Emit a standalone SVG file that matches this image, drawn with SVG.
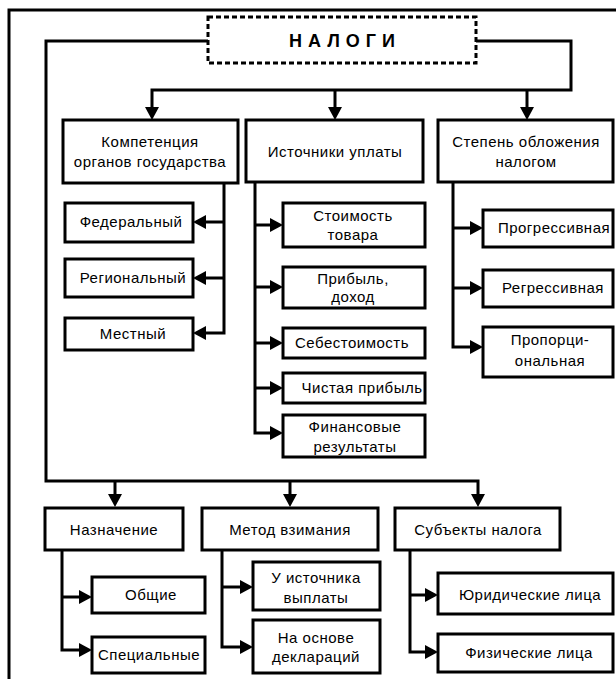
<svg xmlns="http://www.w3.org/2000/svg" width="616" height="679" viewBox="0 0 616 679">
  <style>
    .box { fill: #fff; stroke: #000; stroke-width: 3; }
    .root { fill: #fff; stroke: #000; stroke-width: 3; stroke-dasharray: 5 3; }
    .frame { fill: none; stroke: #000; stroke-width: 3; }
    .wire { fill: none; stroke: #000; stroke-width: 3; }
    .arr { marker-end: url(#head); }
    text { font-family: "Liberation Sans", Arial, sans-serif; font-size: 15px; fill: #000; text-anchor: middle; letter-spacing: 0.5px; }
    .title { font-weight: bold; font-size: 18px; letter-spacing: 6px; }
  </style>
  <defs>
    <marker id="head" markerUnits="userSpaceOnUse" markerWidth="14" markerHeight="14" refX="5" refY="7" orient="auto">
      <path d="M0,0 L13,7 L0,14 z" fill="#000"/>
    </marker>
  </defs>

  <rect class="frame" x="9" y="10" width="620" height="680"/>

  <g id="connectors">
    <!-- root to left trunk, bottom row -->
    <path class="wire" d="M208,41 H46 V481 H478 V499" marker-end="url(#head)"/>
    <path class="wire arr" d="M115,481 V499"/>
    <path class="wire arr" d="M290,481 V499"/>
    <!-- root to right trunk, top row -->
    <path class="wire arr" d="M476,41 H571 V90 H152 V112"/>
    <path class="wire arr" d="M335,90 V112"/>
    <path class="wire arr" d="M527,90 V112"/>
    <!-- competence branch -->
    <path class="wire arr" d="M224,183 V333 H201"/>
    <path class="wire arr" d="M224,222 H201"/>
    <path class="wire arr" d="M224,278 H201"/>
    <!-- sources branch -->
    <path class="wire arr" d="M255,182 V433 H275"/>
    <path class="wire arr" d="M255,225 H275"/>
    <path class="wire arr" d="M255,287 H275"/>
    <path class="wire arr" d="M255,343 H275"/>
    <path class="wire arr" d="M255,388 H275"/>
    <!-- rate branch -->
    <path class="wire arr" d="M453,182 V347 H475"/>
    <path class="wire arr" d="M453,228 H475"/>
    <path class="wire arr" d="M453,288 H475"/>
    <!-- purpose branch -->
    <path class="wire arr" d="M62,550 V650 H84"/>
    <path class="wire arr" d="M62,597 H84"/>
    <!-- collection method branch -->
    <path class="wire arr" d="M222,550 V647 H245"/>
    <path class="wire arr" d="M222,587 H245"/>
    <!-- subjects branch -->
    <path class="wire arr" d="M410,550 V652 H430"/>
    <path class="wire arr" d="M410,595 H430"/>
  </g>

  <g id="nalogi">
    <rect class="root" x="208" y="17" width="268" height="46"/>
    <text class="title" x="345" y="47">НАЛОГИ</text>
  </g>

  <g id="kompetenciya">
    <rect class="box" x="63" y="120" width="175" height="63"/>
    <text x="150" y="147">Компетенция</text>
    <text x="150" y="167">органов государства</text>
  </g>
  <g id="istochniki">
    <rect class="box" x="246" y="120" width="177" height="62"/>
    <text x="335" y="157">Источники уплаты</text>
  </g>
  <g id="stepen">
    <rect class="box" x="438" y="120" width="175" height="62"/>
    <text x="526" y="147">Степень обложения</text>
    <text x="526" y="167">налогом</text>
  </g>

  <g id="federalnyj">
    <rect class="box" x="65" y="203" width="128" height="39"/>
    <text x="131" y="227">Федеральный</text>
  </g>
  <g id="regionalnyj">
    <rect class="box" x="65" y="259" width="128" height="38"/>
    <text x="133" y="283">Региональный</text>
  </g>
  <g id="mestnyj">
    <rect class="box" x="65" y="318" width="128" height="32"/>
    <text x="133" y="339">Местный</text>
  </g>

  <g id="stoimost">
    <rect class="box" x="283" y="203" width="142" height="44"/>
    <text x="353" y="221">Стоимость</text>
    <text x="353" y="240">товара</text>
  </g>
  <g id="pribyl">
    <rect class="box" x="283" y="267" width="142" height="41"/>
    <text x="353" y="284">Прибыль,</text>
    <text x="353" y="302">доход</text>
  </g>
  <g id="sebestoimost">
    <rect class="box" x="283" y="328" width="142" height="30"/>
    <text x="352" y="348">Себестоимость</text>
  </g>
  <g id="chistaya">
    <rect class="box" x="283" y="373" width="142" height="30"/>
    <text x="362" y="393">Чистая прибыль</text>
  </g>
  <g id="finansovye">
    <rect class="box" x="283" y="415" width="142" height="42"/>
    <text x="355" y="432">Финансовые</text>
    <text x="355" y="452">результаты</text>
  </g>

  <g id="progressivnaya">
    <rect class="box" x="483" y="210" width="130" height="37"/>
    <text x="554" y="233">Прогрессивная</text>
  </g>
  <g id="regressivnaya">
    <rect class="box" x="483" y="270" width="130" height="37"/>
    <text x="553" y="293">Регрессивная</text>
  </g>
  <g id="proporcionalnaya">
    <rect class="box" x="483" y="327" width="130" height="50"/>
    <text x="550" y="345">Пропорци-</text>
    <text x="550" y="366">ональная</text>
  </g>

  <g id="naznachenie">
    <rect class="box" x="45" y="508" width="138" height="42"/>
    <text x="114" y="535">Назначение</text>
  </g>
  <g id="metod">
    <rect class="box" x="202" y="508" width="176" height="42"/>
    <text x="290" y="535">Метод взимания</text>
  </g>
  <g id="subekty">
    <rect class="box" x="395" y="508" width="165" height="42"/>
    <text x="478" y="535">Субъекты налога</text>
  </g>

  <g id="obshchie">
    <rect class="box" x="92" y="577" width="113" height="36"/>
    <text x="151" y="600">Общие</text>
  </g>
  <g id="specialnye">
    <rect class="box" x="92" y="637" width="113" height="36"/>
    <text x="149" y="660">Специальные</text>
  </g>
  <g id="u-istochnika">
    <rect class="box" x="253" y="562" width="127" height="48"/>
    <text x="316" y="583">У источника</text>
    <text x="316" y="603">выплаты</text>
  </g>
  <g id="na-osnove">
    <rect class="box" x="253" y="620" width="127" height="53"/>
    <text x="316" y="643">На основе</text>
    <text x="316" y="662">деклараций</text>
  </g>
  <g id="yuridicheskie">
    <rect class="box" x="438" y="573" width="175" height="41"/>
    <text x="530" y="600">Юридические лица</text>
  </g>
  <g id="fizicheskie">
    <rect class="box" x="438" y="634" width="175" height="38"/>
    <text x="529" y="658">Физические лица</text>
  </g>
</svg>
